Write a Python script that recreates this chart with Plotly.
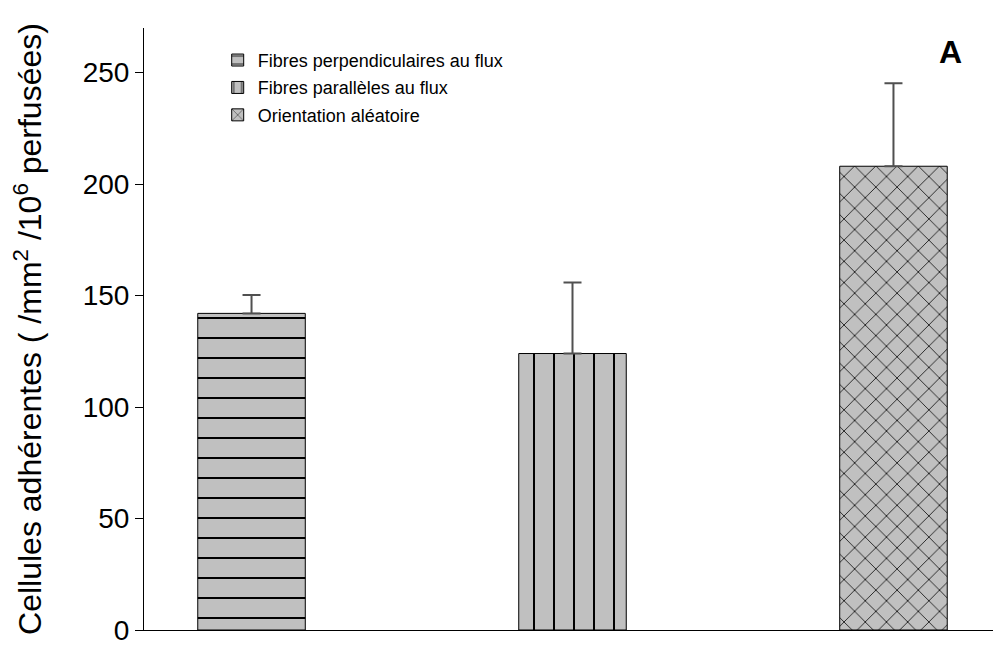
import plotly.graph_objects as go

# Data
categories = ["Fibres perpendiculaires au flux", "Fibres parallèles au flux", "Orientation aléatoire"]
positions = [0, 1, 2]
means = [142, 124, 208]
err_up = [8.3, 31.8, 37.2]
patterns = ["-", "|", "x"]
pattern_sizes = [20, 20, 15]

fig = go.Figure()

for i, name in enumerate(categories):
    fig.add_trace(go.Bar(
        name=name,
        x=[positions[i]],
        y=[means[i]],
        width=0.335,
        legendgroup=name,
        marker=dict(
            color="#c0c0c0",
            line=dict(color="black", width=1),
            pattern=dict(shape=patterns[i], fgcolor="black", bgcolor="#c0c0c0",
                         size=pattern_sizes[i], solidity=0.1, fillmode="replace"),
        ),
        error_y=dict(type="data", symmetric=False, array=[err_up[i]], arrayminus=[0],
                     color="#505050", thickness=2, width=9),
    ))

# page body adds an 8px offset, margins compensate for it
fig.update_layout(
    width=1001, height=652,
    barmode="overlay",
    plot_bgcolor="white", paper_bgcolor="white",
    margin=dict(l=136, r=8, t=20, b=30),
    font=dict(family="Liberation Sans, Arial, sans-serif", color="black"),
    showlegend=True,
    legend=dict(x=0.086, y=0.977, xanchor="left", yanchor="top",
                font=dict(size=18), bgcolor="rgba(0,0,0,0)",
                tracegroupgap=1),
    annotations=[dict(text="<b>A</b>", x=0.957, y=0.993, xref="paper", yref="paper",
                      showarrow=False, font=dict(size=32))],
)

fig.update_xaxes(range=[-0.335, 2.335], showline=True, linecolor="black", linewidth=1,
                 showticklabels=False, ticks="", showgrid=False, zeroline=False)
fig.update_yaxes(range=[0, 270], tickvals=[0, 50, 100, 150, 200, 250],
                 showline=True, linecolor="black", linewidth=1,
                 ticks="outside", ticklen=8, tickcolor="black",
                 tickfont=dict(size=28), showgrid=False, zeroline=False,
                 title=dict(text="Cellules adhérentes ( /mm<sup>2</sup> /10<sup>6</sup> perfusées)",
                            font=dict(size=32), standoff=33))

fig.write_html("out.html")
